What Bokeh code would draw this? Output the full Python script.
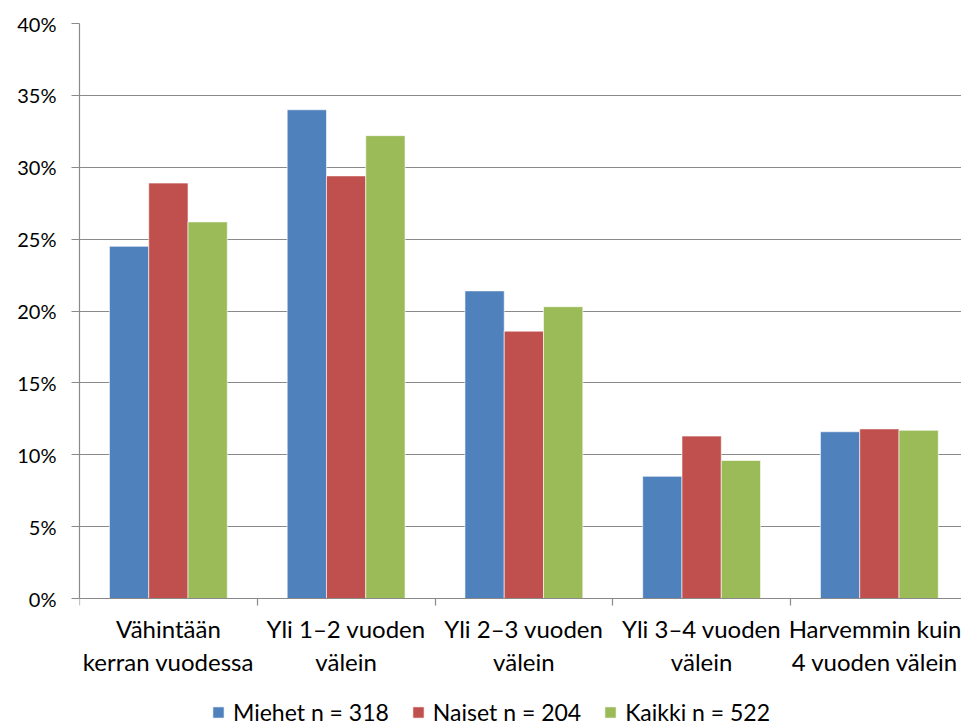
from bokeh.plotting import figure
from bokeh.models import Range1d, FixedTicker, PrintfTickFormatter, Legend, LegendItem, ColumnDataSource
from bokeh.embed import file_html
from bokeh.resources import INLINE

categories = ["Vähintään\nkerran vuodessa", "Yli 1–2 vuoden\nvälein", "Yli 2–3 vuoden\nvälein",
              "Yli 3–4 vuoden\nvälein", "Harvemmin kuin\n4 vuoden välein"]
series_names = ["Miehet n = 318", "Naiset n = 204", "Kaikki n = 522"]
miehet = [24.5, 34.0, 21.4, 8.5, 11.6]
naiset = [28.9, 29.4, 18.6, 11.3, 11.8]
kaikki = [26.2, 32.2, 20.3, 9.6, 11.7]
y_ticks = [0, 5, 10, 15, 20, 25, 30, 35, 40]

colors = ["#4F81BD", "#C0504D", "#9BBB59"]
FONT = "Lato"
GRAY = "#8A8A8A"

n = len(categories)
centers = [i + 0.5 for i in range(n)]
bw = 0.221

# frame: plot area 575 px tall for 0..40 %, extended below 0 to hold axis labels and legend
px_per_unit = 575 / 40
p = figure(frame_width=882, frame_height=703, output_backend="svg", toolbar_location=None,
           x_range=Range1d(0, 882 / 177.75), y_range=Range1d(-128 / px_per_unit, 40),
           min_border_left=79, min_border_right=0, min_border_top=23, min_border_bottom=0)
p.outline_line_color = None
p.background_fill_color = "white"
p.border_fill_color = "white"

renderers = []
for k, (vals, col) in enumerate(zip([miehet, naiset, kaikki], colors)):
    src = ColumnDataSource(dict(x=[c + (k - 1) * bw for c in centers], top=vals))
    r = p.vbar(x="x", top="top", bottom=0, width=bw, source=src, fill_color=col,
               line_color="white", line_alpha=0.6, line_width=1)
    renderers.append(r)

# grid
p.xgrid.grid_line_color = None
p.ygrid.grid_line_color = GRAY
p.ygrid.grid_line_width = 1.2
p.ygrid.ticker = FixedTicker(ticks=y_ticks)

# y axis
ya = p.yaxis[0]
ya.ticker = FixedTicker(ticks=y_ticks, minor_ticks=[])
ya.bounds = (y_ticks[0], y_ticks[-1])
ya.formatter = PrintfTickFormatter(format="%d%%")
ya.axis_line_color = GRAY
ya.axis_line_width = 1.2
ya.major_tick_line_color = GRAY
ya.major_tick_line_width = 1.2
ya.major_tick_out = 8
ya.major_tick_in = 0
ya.minor_tick_line_color = None
ya.major_label_text_font = FONT
ya.major_label_text_font_size = "20px"
ya.major_label_text_color = "black"
ya.major_label_standoff = 15

# x axis, drawn at the 0 % line
xa = p.xaxis[0]
xa.fixed_location = 0
xa.ticker = FixedTicker(ticks=centers, minor_ticks=list(range(n + 1)))
xa.major_label_overrides = {c: lab for c, lab in zip(centers, categories)}
xa.axis_line_color = GRAY
xa.axis_line_width = 1.2
xa.major_tick_line_color = None
xa.minor_tick_line_color = GRAY
xa.minor_tick_line_width = 1.2
xa.minor_tick_out = 7
xa.minor_tick_in = 0
xa.major_label_text_font = FONT
xa.major_label_text_font_size = "24px"
xa.major_label_text_color = "black"
xa.major_label_text_line_height = 1.15
xa.major_label_standoff = 8

legend = Legend(items=[LegendItem(label=nm, renderers=[r]) for nm, r in zip(series_names, renderers)],
                orientation="horizontal", location=(132, 0),
                label_text_font=FONT, label_text_font_size="23px", label_text_color="black",
                glyph_width=14, glyph_height=14, label_standoff=8, spacing=22,
                padding=0, margin=0, border_line_color=None, background_fill_alpha=0)
p.add_layout(legend, "center")

open("out.html", "w").write(file_html(p, INLINE))
